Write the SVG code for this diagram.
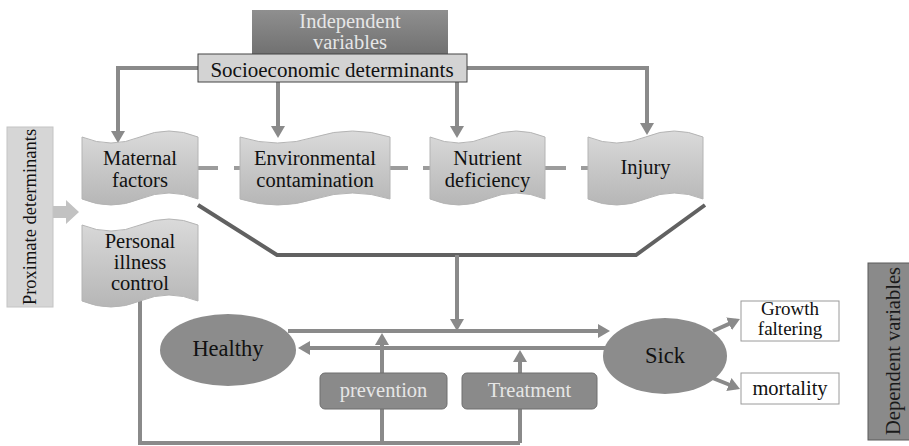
<svg xmlns="http://www.w3.org/2000/svg" width="909" height="446" viewBox="0 0 909 446">
<defs>
<linearGradient id="docg" x1="0" y1="0" x2="0" y2="1">
<stop offset="0" stop-color="#dadada"/>
<stop offset="1" stop-color="#b6b6b6"/>
</linearGradient>
<linearGradient id="indg" x1="0" y1="0" x2="0" y2="1">
<stop offset="0" stop-color="#8f8f8f"/>
<stop offset="1" stop-color="#707070"/>
</linearGradient>
<marker id="ah" viewBox="0 0 12 14" refX="8" refY="7" markerWidth="12" markerHeight="14" markerUnits="userSpaceOnUse" orient="auto">
<path d="M0,0 L12,7 L0,14 z" fill="#8a8a8a"/>
</marker>
<style>
text{font-size:20.5px;text-anchor:middle;fill:#111}
.doc{fill:url(#docg);stroke:#b4b4b4;stroke-width:1}
.con{fill:none;stroke:#8a8a8a;stroke-width:4}
.arr{marker-end:url(#ah)}
.fun{fill:none;stroke:#616161;stroke-width:4}
.dash{fill:none;stroke:#9c9c9c;stroke-width:4}
.ell{fill:#8c8c8c}
.act{fill:#8a8a8a;stroke:#6e6e6e;stroke-width:1}
.out{fill:#fff;stroke:#9a9a9a;stroke-width:1}
.lt{fill:#e6e6e6}
</style>
</defs>
<rect width="909" height="446" fill="#fff"/>

<g id="connectors">
<path class="dash" d="M198,168 H218 M234,168 H240 M390,168 H408 M423,168 H430 M545,168 H566 M581,168 H588"/>
<path class="con arr" d="M198,68 H118 V139"/>
<path class="con arr" d="M278,82 V134"/>
<path class="con arr" d="M457,82 V134"/>
<path class="con arr" d="M467,68 H647 V131"/>
<path class="fun" d="M198,205 L277,255 L636,255 L705,205"/>
<path class="con arr" d="M457,255 V327"/>
<path class="con arr" d="M288,331 H606"/>
<path class="con arr" d="M606,348 H302"/>
<path class="con" d="M140,298 V443 H520"/>
<path class="con arr" d="M382,443 V337"/>
<path class="con arr" d="M520,443 V354"/>
<path class="con arr" d="M713,331 L736.3,320.6"/>
<path class="con arr" d="M705,375 L736.3,387.5"/>
<polygon points="53,206 66,206 66,200 79,212 66,224 66,218 53,218" fill="#c2c2c2"/>
</g>

<g font-family="Liberation Serif, serif">
<g id="independent">
<rect x="252" y="10" width="196" height="45" fill="url(#indg)"/>
<text class="lt" x="350" y="28">Independent</text>
<text class="lt" x="350" y="49">variables</text>
</g>

<g id="socioeconomic">
<rect x="198" y="54" width="269" height="28" fill="#d3d3d3" stroke="#444" stroke-width="1"/>
<text x="332" y="77" style="font-size:21px">Socioeconomic determinants</text>
</g>

<g id="maternal">
<path class="doc" d="M82,137 Q111,149 140,137 Q169,125 198,137 L198,199 Q169,187 140,199 Q111,211 82,199 Z"/>
<text x="140" y="165">Maternal</text>
<text x="140" y="187">factors</text>
</g>

<g id="environmental">
<path class="doc" d="M240,137 Q277.5,149 315,137 Q352.5,125 390,137 L390,199 Q352.5,187 315,199 Q277.5,211 240,199 Z"/>
<text x="315" y="165">Environmental</text>
<text x="315" y="187">contamination</text>
</g>

<g id="nutrient">
<path class="doc" d="M430,137 Q458.75,149 487.5,137 Q516.25,125 545,137 L545,199 Q516.25,187 487.5,199 Q458.75,211 430,199 Z"/>
<text x="487.5" y="165">Nutrient</text>
<text x="487.5" y="187">deficiency</text>
</g>

<g id="injury">
<path class="doc" d="M588,137 Q616.75,149 645.5,137 Q674.25,125 703,137 L703,199 Q674.25,187 645.5,199 Q616.75,211 588,199 Z"/>
<text x="645.5" y="174">Injury</text>
</g>

<g id="personal">
<path class="doc" d="M82,225 Q111,237 140,225 Q169,213 198,225 L198,301 Q169,289 140,301 Q111,313 82,301 Z"/>
<text x="140" y="248">Personal</text>
<text x="140" y="269">illness</text>
<text x="140" y="290">control</text>
</g>

<g id="proximate">
<rect x="7" y="127" width="46" height="180" fill="#d6d6d6" stroke="#c4c4c4" stroke-width="1"/>
<text transform="translate(36,217) rotate(-90)" style="font-size:18.5px">Proximate determinants</text>
</g>

<g id="healthy">
<ellipse class="ell" cx="228" cy="350" rx="68" ry="36"/>
<text x="228" y="356" style="font-size:22.5px">Healthy</text>
</g>

<g id="sick">
<ellipse class="ell" cx="665" cy="356" rx="62" ry="38"/>
<text x="665" y="363" style="font-size:22.5px">Sick</text>
</g>

<g id="prevention">
<rect class="act" x="320" y="373" width="127" height="36" rx="5"/>
<text class="lt" x="383.5" y="397">prevention</text>
</g>

<g id="treatment">
<rect class="act" x="462" y="373" width="135" height="36" rx="5"/>
<text class="lt" x="529.5" y="397">Treatment</text>
</g>

<g id="growth">
<rect class="out" x="741" y="301" width="98" height="40"/>
<text x="790" y="315" style="font-size:19px">Growth</text>
<text x="790" y="335" style="font-size:19px">faltering</text>
</g>

<g id="mortality">
<rect class="out" x="741" y="373" width="98" height="31"/>
<text x="790" y="395">mortality</text>
</g>

<g id="dependent">
<rect x="868" y="263" width="45" height="177" fill="#8a8a8a" stroke="#5a5a5a" stroke-width="1"/>
<text transform="translate(900,351) rotate(-90)" style="fill:#1a1a1a">Dependent variables</text>
</g>
</g>
</svg>
